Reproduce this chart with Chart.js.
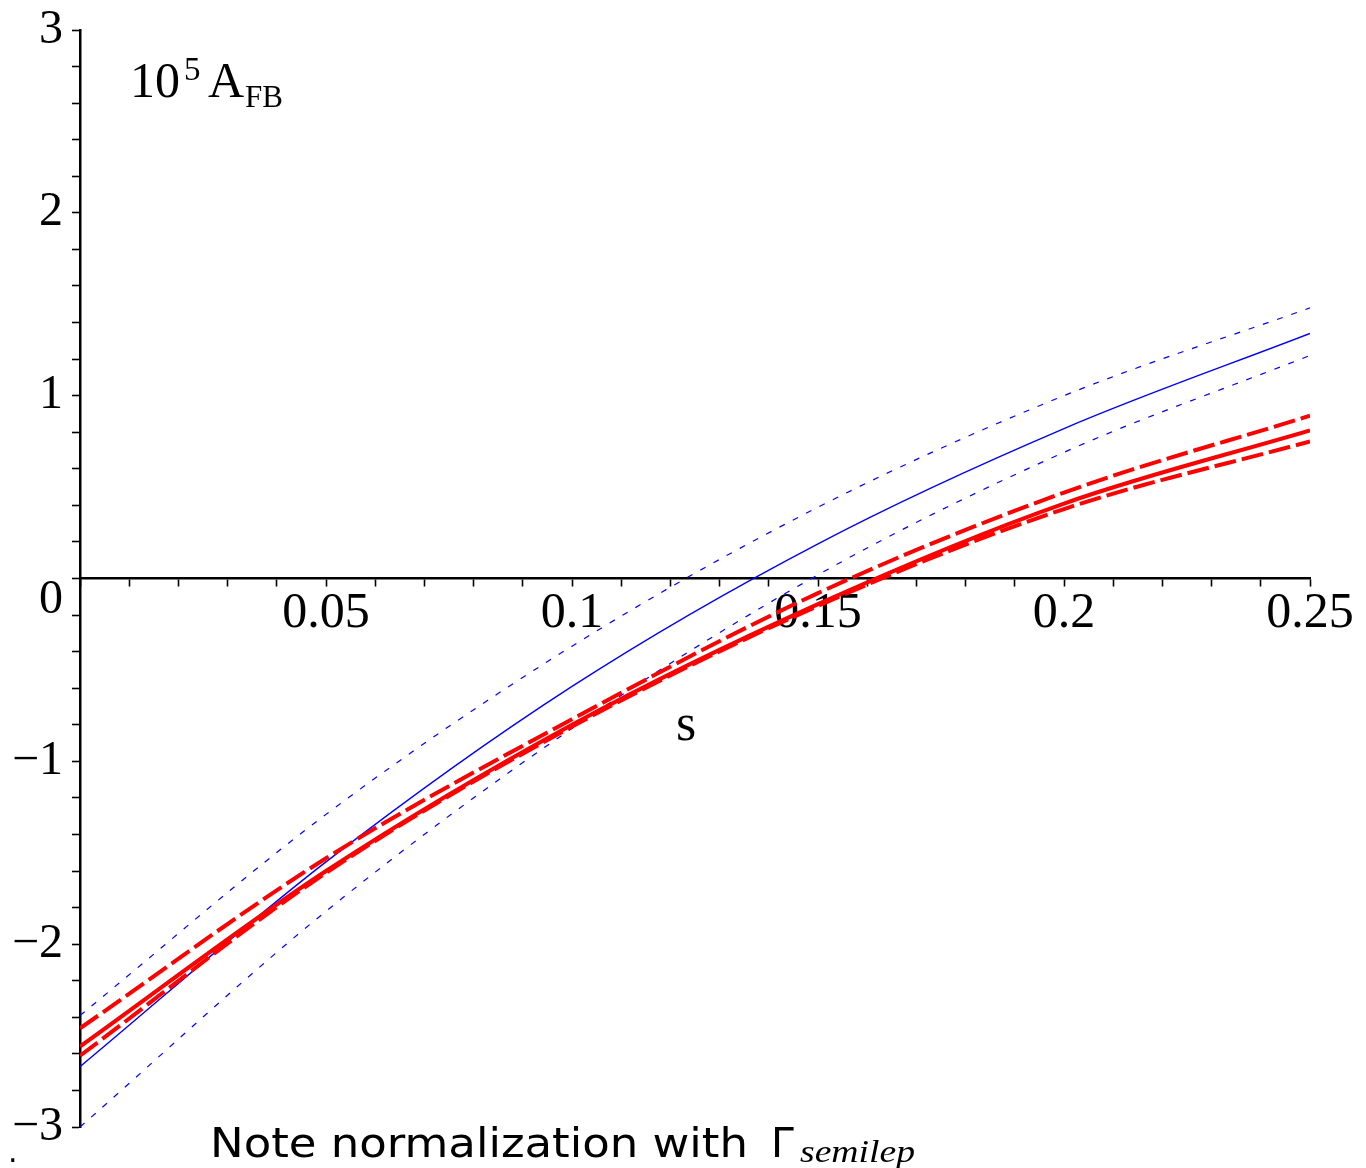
<!DOCTYPE html>
<html>
<head>
<meta charset="utf-8">
<title>A_FB versus s</title>
<script src="https://cdn.jsdelivr.net/npm/chart.js@4/dist/chart.umd.min.js"></script>
<style>
  html, body { margin: 0; padding: 0; background: #fff; }
  canvas { display: block; }
</style>
</head>
<body>
<canvas id="afb" width="1366" height="1168"></canvas>
<script>
// s values where each curve is sampled
const sValues = [0, 0.05, 0.1, 0.15, 0.2, 0.25];

// 10^5 A_FB, blue band (central + upper/lower)
const blueCentral = [-2.67, -1.55, -0.59, 0.19, 0.82, 1.34];
const blueUpper   = [-2.39, -1.29, -0.37, 0.39, 1.00, 1.48];
const blueLower   = [-3.00, -1.82, -0.82, 0.02, 0.69, 1.22];

// 10^5 A_FB, red band (central + upper/lower)
const redCentral = [-2.56, -1.60, -0.80, -0.14, 0.41, 0.81];
const redUpper   = [-2.46, -1.53, -0.77, -0.08, 0.47, 0.89];
const redLower   = [-2.61, -1.61, -0.81, -0.15, 0.38, 0.75];

// axis ranges and labelled ticks
const xRange = [0, 0.25];
const yRange = [-3, 3];
const xLabelTicks = [0.05, 0.1, 0.15, 0.2, 0.25];
const yLabelTicks = [-3, -2, -1, 0, 1, 2, 3];

const SERIF = '"Liberation Serif", "Times New Roman", serif';

function toPoints(ys) {
  return sValues.map((s, i) => ({ x: s, y: ys[i] }));
}

function isLabelled(list, v) {
  return list.some(t => Math.abs(t - v) < 1e-9);
}

function curve(ys, color, width, dash) {
  return {
    data: toPoints(ys),
    borderColor: color,
    borderWidth: width,
    borderDash: dash,
    pointRadius: 0,
    fill: false,
    cubicInterpolationMode: 'monotone'
  };
}

// draws a string squeezed/stretched to a given width
function fillTextWidth(ctx, str, x, y, width) {
  const natural = ctx.measureText(str).width;
  ctx.save();
  ctx.translate(x, y);
  ctx.scale(width / natural, 1);
  ctx.fillText(str, 0, 0);
  ctx.restore();
}

const textPlugin = {
  id: 'afbText',
  afterDraw(chart) {
    const ctx = chart.ctx;
    const yScale = chart.scales.y;
    const area = chart.chartArea;
    ctx.save();
    ctx.fillStyle = '#000';

    // "0" on the vertical axis sits a little below its tick
    ctx.font = '48px ' + SERIF;
    ctx.textAlign = 'right';
    ctx.textBaseline = 'middle';
    ctx.fillText('0', yScale.right - 17, yScale.getPixelForValue(0) + 22);

    // y-axis title: 10^5 A_FB
    ctx.textBaseline = 'alphabetic';
    ctx.textAlign = 'left';
    const tx = area.left + 50, ty = area.top + 67;
    ctx.font = '50px ' + SERIF;
    ctx.fillText('10', tx, ty);
    const w = ctx.measureText('10').width;
    ctx.font = '33px ' + SERIF;
    ctx.fillText('5', tx + w + 4, ty - 17);
    ctx.font = '50px ' + SERIF;
    ctx.fillText('A', tx + w + 28, ty);
    const wa = ctx.measureText('A').width;
    ctx.font = '31px ' + SERIF;
    ctx.fillText('FB', tx + w + 28 + wa + 1, ty + 10);

    // x-axis title
    ctx.font = '52px ' + SERIF;
    ctx.textAlign = 'center';
    ctx.fillText('s', 686, 740);

    // footnote
    ctx.textAlign = 'left';
    ctx.font = '30px "DejaVu Sans"';
    ctx.fillText('.', 8, 1162);
    ctx.font = '41px "DejaVu Sans"';
    fillTextWidth(ctx, 'Note normalization with', 210, 1157, 538);
    ctx.fillText('\u0393', 771, 1157);
    ctx.font = 'italic 31px ' + SERIF;
    fillTextWidth(ctx, 'semilep', 800, 1162, 115);
    ctx.restore();
  }
};

new Chart(document.getElementById('afb'), {
  type: 'line',
  data: {
    datasets: [
      curve(redCentral, '#ff0000', 4, []),
      curve(redUpper, '#ff0000', 4, [22, 6]),
      curve(redLower, '#ff0000', 4, [22, 6]),
      curve(blueCentral, '#0000ff', 1.4, []),
      curve(blueUpper, '#0000ff', 1.2, [6, 9]),
      curve(blueLower, '#0000ff', 1.2, [6, 9])
    ]
  },
  options: {
    responsive: false,
    animation: false,
    events: [],
    layout: { padding: { top: 30, right: 56, left: 0, bottom: 41 } },
    plugins: { legend: { display: false }, tooltip: { enabled: false } },
    scales: {
      x: {
        type: 'linear',
        min: xRange[0],
        max: xRange[1],
        position: { y: 0 },
        afterFit(scale) {
          scale.height = 0;
          scale.paddingLeft = 0;
          scale.paddingRight = 0;
        },
        border: { color: '#000', width: 2.5 },
        grid: { drawOnChartArea: false, drawTicks: true, tickLength: 7, tickColor: '#000', tickWidth: 1.6 },
        ticks: {
          stepSize: 0.01,
          autoSkip: false,
          maxRotation: 0,
          minRotation: 0,
          padding: 3,
          color: '#000',
          font: { family: SERIF, size: 50, lineHeight: 1 },
          callback: v => isLabelled(xLabelTicks, v) ? String(Number(v.toFixed(2))) : ''
        }
      },
      y: {
        type: 'linear',
        min: yRange[0],
        max: yRange[1],
        position: 'left',
        afterFit(scale) {
          scale.width = 80;
          scale.paddingTop = 0;
          scale.paddingBottom = 0;
        },
        border: { color: '#000', width: 2.5 },
        grid: { drawOnChartArea: false, drawTicks: true, tickLength: 8, tickColor: '#000', tickWidth: 1.6 },
        ticks: {
          stepSize: 0.2,
          autoSkip: false,
          padding: 9,
          color: '#000',
          font: { family: SERIF, size: 48, lineHeight: 1 },
          callback: v => {
            if (!isLabelled(yLabelTicks, v) || Math.abs(v) < 1e-9) return '';
            const n = Math.round(v);
            return n < 0 ? '\u2212' + Math.abs(n) : String(n);
          }
        }
      }
    }
  },
  plugins: [textPlugin]
});
</script>
</body>
</html>
